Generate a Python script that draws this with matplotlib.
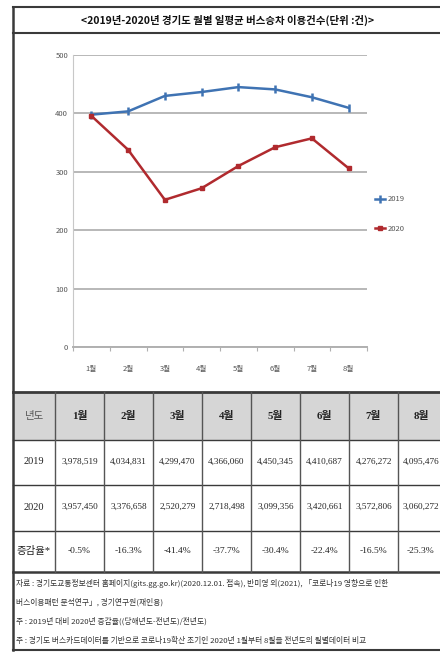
import matplotlib.pyplot as plt
from matplotlib.patches import Rectangle

plt.rcParams['font.family'] = ['Noto Sans CJK KR', 'DejaVu Sans']

months = ['1월', '2월', '3월', '4월', '5월', '6월', '7월', '8월']
riders_2019 = [3978519, 4034831, 4299470, 4366060, 4450345, 4410687, 4276272, 4095476]
riders_2020 = [3957450, 3376658, 2520279, 2718498, 3099356, 3420661, 3572806, 3060272]
change_pct = [-0.5, -16.3, -41.4, -37.7, -30.4, -22.4, -16.5, -25.3]
y_ticks = [0, 100, 200, 300, 400, 500]

title = '<2019년-2020년 경기도 월별 일평균 버스승차 이용건수(단위 :건)>'
notes = [
    '자료 : 경기도교통정보센터 홈페이지(gits.gg.go.kr)(2020.12.01. 접속), 반미영 외(2021), 「코로나19 영향으로 인한',
    '버스이용패턴 분석연구」, 경기연구원(재인용)',
    '주 : 2019년 대비 2020년 증감율((당해년도-전년도)/전년도)',
    '주 : 경기도 버스카드데이터를 기반으로 코로나19확산 초기인 2020년 1월부터 8월을 전년도의 월별데이터 비교',
]

W, H = 440, 672
fig = plt.figure(figsize=(W / 100, H / 100), dpi=100)

# frame, title box, table and notes drawn in pixel coords
bg = fig.add_axes([0, 0, 1, 1])
bg.set_xlim(0, W)
bg.set_ylim(H, 0)
bg.axis('off')

dark = '#3a3a3a'
left, right = 13, 450
col_x = [13, 55, 104, 153, 202, 251, 300, 349, 398, 444]
row_y = [392, 440, 485, 531, 572]

bg.add_patch(Rectangle((left, row_y[0]), right - left, row_y[1] - row_y[0],
                       facecolor='#d6d6d6', edgecolor='none'))

bg.plot([left, left], [7, 650], color=dark, lw=1.8)
for y, lw in [(7, 1.5), (33, 1.5), (392, 2.0), (440, 1.0), (485, 1.0),
              (531, 1.0), (572, 1.8), (650, 1.5)]:
    bg.plot([left, right], [y, y], color=dark, lw=lw)
for x in col_x[1:-1]:
    bg.plot([x, x], [row_y[0], row_y[-1]], color='#555555', lw=1.0)

bg.text(228, 20, title, ha='center', va='center', fontsize=7.5,
        fontweight='bold', color='#111111')

# table
num_font = ['Liberation Serif', 'Noto Sans CJK KR']
centers = [(col_x[i] + col_x[i + 1]) / 2 for i in range(len(col_x) - 1)]
row_c = [416, 462, 507, 551]

first_col = ['년도', '2019', '2020', '증감율*']
for r, label in enumerate(first_col):
    bg.text(centers[0], row_c[r], label, ha='center', va='center',
            fontsize=7.5, family=num_font,
            color='#555555' if r == 0 else '#222222')

for i in range(8):
    c = centers[i + 1]
    bg.text(c, row_c[0], months[i], ha='center', va='center', fontsize=7.8,
            fontweight='bold', family=num_font, color='#222222')
    bg.text(c, row_c[1], f'{riders_2019[i]:,}', ha='center', va='center',
            fontsize=6.6, family=num_font, color='#222222')
    bg.text(c, row_c[2], f'{riders_2020[i]:,}', ha='center', va='center',
            fontsize=6.6, family=num_font, color='#222222')
    bg.text(c, row_c[3], f'{change_pct[i]:.1f}%', ha='center', va='center',
            fontsize=6.8, family=num_font, color='#222222')

for k, line in enumerate(notes):
    bg.text(16, 583 + k * 19.3, line, ha='left', va='center', fontsize=5.6,
            color='#333333')

# line chart
ax = fig.add_axes([73 / W, (H - 347) / H, 294 / W, 292 / H])
ax.set_facecolor('none')
xpos = [i + 0.5 for i in range(len(months))]
ax.plot(xpos, [v / 10000 for v in riders_2019], color='#3f73b3', lw=1.8,
        marker='|', ms=6, mew=1.8, label='2019', zorder=3)
ax.plot(xpos, [v / 10000 for v in riders_2020], color='#b02a2e', lw=1.8,
        marker='s', ms=3.5, label='2020', zorder=3)

ax.set_xlim(0, 8)
ax.set_ylim(0, 500)
ax.set_yticks(y_ticks)
ax.yaxis.grid(True, color='#b8b8b8', lw=1.4)
ax.set_axisbelow(True)

ax.set_xticks(range(9))
ax.set_xticklabels([])
ax.set_xticks(xpos, minor=True)
ax.set_xticklabels(months, minor=True)
ax.tick_params(axis='x', which='major', length=3, color='#b0b0b0')
ax.tick_params(axis='x', which='minor', length=0, pad=13, labelsize=5.5,
               labelcolor='#555555')
ax.tick_params(axis='y', length=0, pad=3.5, labelsize=5.5, labelcolor='#555555')

ax.spines['top'].set_visible(False)
ax.spines['right'].set_visible(False)
ax.spines['left'].set_color('#c8c8c8')
ax.spines['bottom'].set_color('#b0b0b0')
ax.spines['bottom'].set_linewidth(1.4)

ax.legend(loc='center left', bbox_to_anchor=(375 / W, 1 - 214 / H),
          bbox_transform=fig.transFigure, frameon=False, fontsize=5.5,
          handlelength=1.3, handletextpad=0.3, labelspacing=2.8,
          borderpad=0, borderaxespad=0, labelcolor='#555555')

fig.savefig('out.png', dpi=100)
